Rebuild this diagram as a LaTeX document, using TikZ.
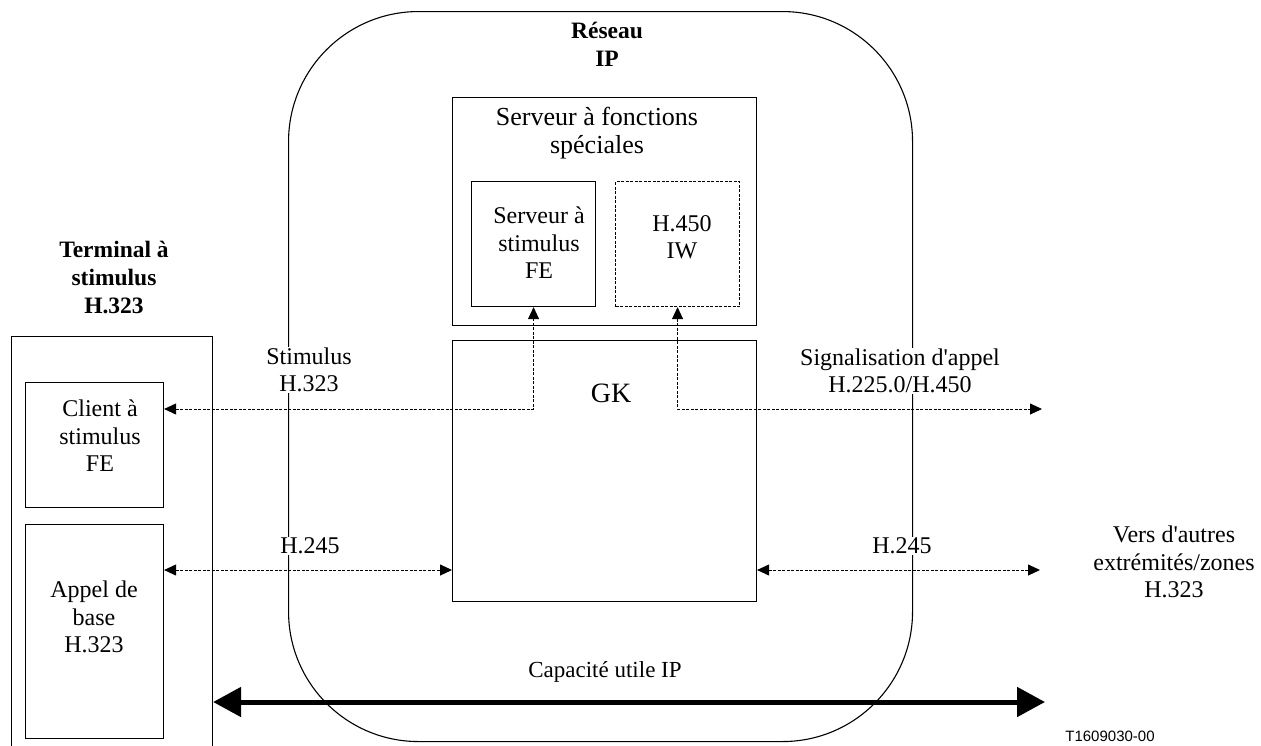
\documentclass[tikz,border=0pt]{standalone}
\usepackage{fontspec}
\setmainfont{Liberation Serif}[Ligatures=TeXOff]
\newfontfamily\arialf{Liberation Sans}
\usetikzlibrary{arrows.meta}
\begin{document}
\begin{tikzpicture}[x=1pt,y=-1pt,
  box/.style={draw, line width=1.1pt, inner sep=0pt, anchor=north west},
  lbl/.style={align=center, font=\fontsize{24}{27.5}\selectfont, inner sep=1pt},
  ttl/.style={align=center, font=\fontsize{23.5}{28}\selectfont\bfseries, inner sep=1pt},
  sig/.style={dash pattern=on 3pt off 1.5pt, line width=0.9pt,
    {Triangle[length=12pt,width=11pt]}-{Triangle[length=12pt,width=11pt]}},
  payload/.style={line width=5pt,
    {Triangle[length=28pt,width=29pt]}-{Triangle[length=28pt,width=29pt]}}
]
\path[use as bounding box] (0,0) rectangle (1261,745);
\clip (0,0) rectangle (1261,745);

% IP network region
\node[draw, line width=1.1pt, rounded corners=130pt, minimum width=624pt, minimum height=730pt,
  anchor=north west, inner sep=0pt] (ip) at (288,11) {};

% terminal
\node[box, minimum width=201pt, minimum height=440pt] (term) at (11,336) {};
\node[box, minimum width=138pt, minimum height=125pt] (client) at (25,382) {};
\node[lbl] (clientt) at (100,436) {Client à\\stimulus\\FE};
\node[box, minimum width=138pt, minimum height=214pt] (appel) at (25,524) {};
\node[lbl] (appelt) at (94,617) {Appel de\\base\\H.323};

% servers
\node[box, minimum width=304pt, minimum height=228pt] (sfs) at (452,97) {};
\node[lbl, font=\fontsize{26}{28}\selectfont] (sfst) at (597,133) {Serveur à fonctions\\spéciales};
\node[box, minimum width=124pt, minimum height=125pt] (ssf) at (471,181) {};
\node[lbl] (ssft) at (539,243) {Serveur à\\stimulus\\FE};
\node[box, dash pattern=on 3pt off 1.5pt, minimum width=124pt, minimum height=125pt] (h450) at (615,181) {};
\node[lbl] (h450t) at (682,237) {H.450\\IW};
\node[box, minimum width=304pt, minimum height=261pt] (gk) at (452,340) {};
\node[lbl, font=\fontsize{28}{30}\selectfont] (gkt) at (611,393) {GK};

% labels over the region border
\node[lbl, fill=white] (stim) at (309,370) {Stimulus\\H.323};
\node[lbl, fill=white] (h245l) at (310,546) {H.245};
\node[lbl, fill=white] (sigl) at (900,371) {Signalisation d'appel\\H.225.0/H.450};
\node[lbl, fill=white] (h245r) at (902,546) {H.245};
\node[lbl] (vers) at (1174,562) {Vers d'autres\\extrémités/zones\\H.323};
\node[lbl, font=\fontsize{23}{27}\selectfont] (cap) at (605,672) {Capacité utile IP};
\node[ttl] (reseau) at (607,44) {Réseau\\IP};
\node[ttl] (termt) at (114,277) {Terminal à\\stimulus\\H.323};
\node[font=\arialf\fontsize{15}{18}\selectfont, anchor=north, inner sep=0pt] (ref) at (1110,731) {T1609030-00};

% connectors
\coordinate (stimY) at (0,409);
\coordinate (hY) at (0,570);
\coordinate (payY) at (0,702);
\coordinate (sigR) at (1042,409);
\coordinate (h245R) at (1040,570);
\coordinate (payR) at (1045,702);

\draw[sig] (client.east |- stimY) -- (ssf.south |- stimY) -- (ssf.south);
\draw[sig] (h450.south) -- (h450.south |- stimY) -- (sigR);
\draw[sig] (appel.east |- hY) -- (gk.west |- hY);
\draw[sig] (gk.east |- hY) -- (h245R);
\draw[payload] (term.east |- payY) -- (payR);
\end{tikzpicture}
\end{document}
